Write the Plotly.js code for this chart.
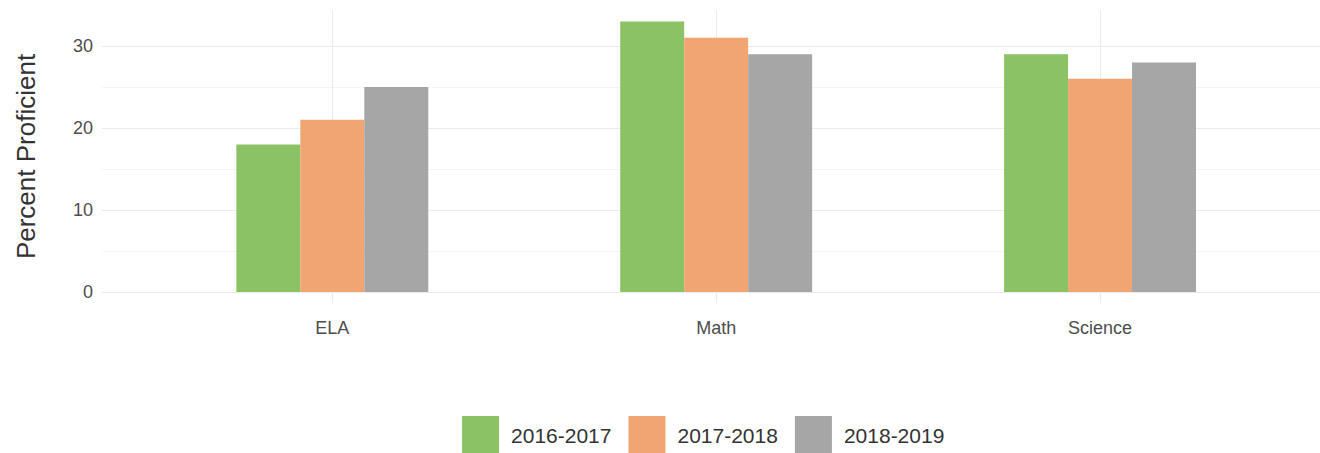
<!DOCTYPE html>
<html>
<head>
<meta charset="utf-8">
<script src="https://cdn.plot.ly/plotly-3.0.1.min.js"></script>
<style>html,body{margin:0;padding:0;background:#fff;}#chart{width:1320px;height:453px;}</style>
</head>
<body>
<div id="chart"></div>
<script>
const subjects = ["ELA", "Math", "Science"];
const years = ["2016-2017", "2017-2018", "2018-2019"];
const values2016 = [18, 33, 29];
const values2017 = [21, 31, 26];
const values2018 = [25, 29, 28];
const yTicks = [0, 10, 20, 30];
const colors = ["#8cc266", "#f0a572", "#a6a6a6"];

const series = [values2016, values2017, values2018];
const traces = series.map((vals, i) => ({
  type: "bar",
  name: years[i],
  x: subjects,
  y: vals,
  marker: {color: colors[i], line: {width: 0}},
  hoverinfo: "x+y+name"
}));

const layout = {
  width: 1320, height: 453,
  paper_bgcolor: "#ffffff", plot_bgcolor: "#ffffff",
  margin: {l: 102, r: 0, t: 10, b: 150, autoexpand: false},
  barmode: "group",
  bargap: 0.5,
  bargroupgap: 0,
  font: {family: "Liberation Sans, Arial, sans-serif", color: "#4d4d4d"},
  xaxis: {
    type: "category",
    range: [-0.6, 2.573],
    showgrid: true, gridcolor: "#ebebeb", gridwidth: 1,
    zeroline: false, showline: false, ticks: "",
    tickfont: {size: 18, color: "#4d4d4d"},
    ticklabelstandoff: 12,
    automargin: false
  },
  yaxis: {
    range: [-1.34, 34.39],
    tickvals: yTicks,
    ticktext: yTicks.map(String),
    showgrid: true, gridcolor: "#ebebeb", gridwidth: 1,
    minor: {dtick: 5, tick0: 5, showgrid: true, gridcolor: "#f5f5f5", gridwidth: 1, ticks: ""},
    zeroline: false, showline: false, ticks: "",
    tickfont: {size: 18, color: "#4d4d4d"},
    ticklabelstandoff: 8,
    title: {text: "Percent Proficient", font: {size: 26, color: "#333333"}, standoff: 29},
    automargin: false
  },
  showlegend: true,
  legend: {
    orientation: "h",
    x: 0.491, xanchor: "center",
    y: -0.45, yanchor: "middle",
    font: {size: 21, color: "#333333"},
    itemwidth: 51,
    traceorder: "normal",
    bgcolor: "rgba(0,0,0,0)"
  }
};

Plotly.newPlot("chart", traces, layout, {displayModeBar: false, staticPlot: true}).then(gd => {
  // enlarge legend swatches to the large squares of the reference
  gd.querySelectorAll(".legend .traces").forEach(tr => {
    tr.querySelectorAll(".legendpoints path").forEach(p => {
      p.setAttribute("d", "M18.5,18.5H-18.5V-18.5H18.5Z");
    });
  });
});
</script>
</body>
</html>
